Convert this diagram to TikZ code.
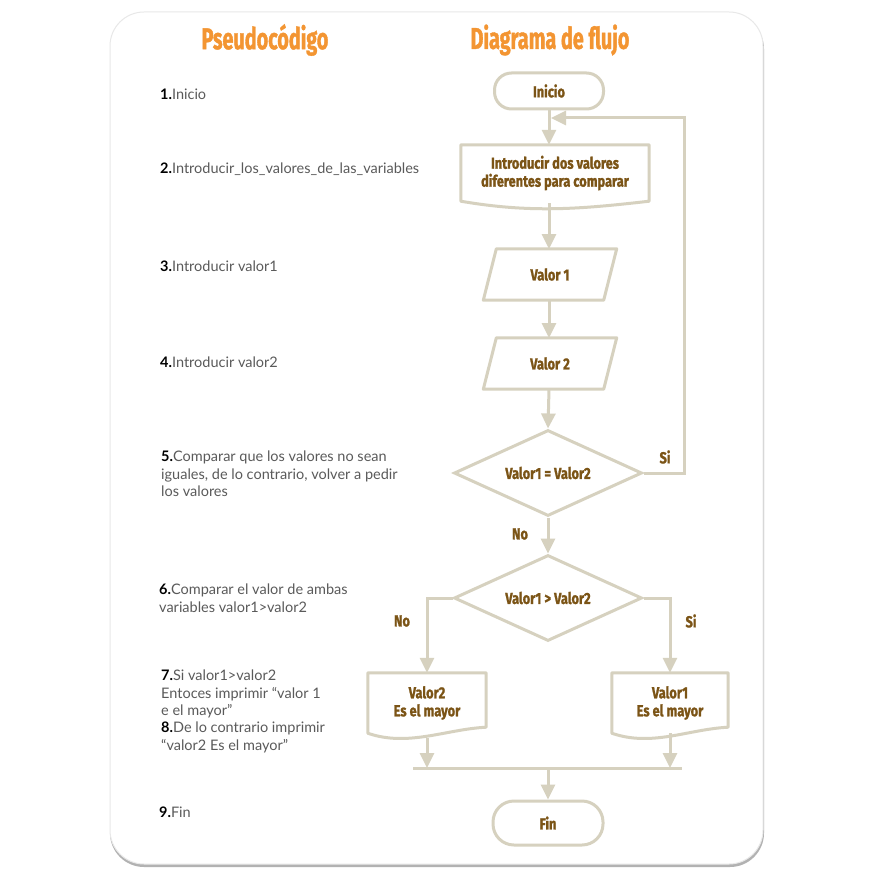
\documentclass[tikz,border=0pt]{standalone}
\usepackage{fontspec}
\setmainfont{Lato}
\newfontfamily\titlefont[FakeStretch=0.66, FakeBold=1.2]{Fira Sans}
\newfontfamily\boxfont[FakeStretch=0.8, FakeBold=1.2]{Fira Sans}
\usetikzlibrary{arrows.meta,shapes.geometric,calc}
\definecolor{linec}{HTML}{D6D1BF}
\definecolor{txtb}{HTML}{7B5416}
\definecolor{orng}{HTML}{F39532}
\definecolor{grayt}{HTML}{5A5A5A}
\tikzset{
  flow/.style={draw=linec, line width=3pt},
  arr/.style={flow, -{Triangle[width=14pt,length=15pt]}},
  lbl/.style={text=txtb, font=\boxfont\bfseries\fontsize{16}{18}\selectfont, align=center},
  term/.style={flow, lbl, rounded corners=17pt, minimum width=109pt, minimum height=36pt, inner sep=0pt},
  ghost/.style={lbl, draw=none, inner sep=0pt},
  dec/.style={flow, lbl, diamond, aspect=2.2, minimum width=188pt, minimum height=86pt, inner sep=0pt},
  pc/.style={text=grayt, font=\fontsize{14.5}{17.3}\selectfont, align=left, inner sep=0pt, anchor=north west},
  ttl/.style={text=orng, font=\titlefont\bfseries\fontsize{30}{32}\selectfont},
  yn/.style={text=txtb, font=\boxfont\bfseries\fontsize{16}{18}\selectfont}
}
\newcommand{\pn}[1]{\textcolor{black}{\bfseries #1}}
\begin{document}
\begin{tikzpicture}[x=1pt,y=-1pt]
\useasboundingbox (0,0) rectangle (870,880);
\fill[white] (0,0) rectangle (870,880);
% card
\fill[black!30, rounded corners=34pt] (110,15) rectangle (764,867);
\fill[white, rounded corners=34pt] (110,12) rectangle (763,864);
\draw[black!9, line width=1pt, rounded corners=34pt] (110,12) rectangle (763,864);
% titles
\node[ttl] (t1) at (265,40) {Pseudocódigo};
\node[ttl] (t2) at (550,40) {Diagrama de flujo};
% pseudocode
\node[pc] (p1) at (160,89) {\pn{1.}Inicio};
\node[pc] (p2) at (160,163) {\pn{2.}Introducir\_los\_valores\_de\_las\_variables};
\node[pc] (p3) at (160,261) {\pn{3.}Introducir valor1};
\node[pc] (p4) at (160,357) {\pn{4.}Introducir valor2};
\node[pc] (p5) at (161,451) {\pn{5.}Comparar que los valores no sean\\iguales, de lo contrario, volver a pedir\\los valores};
\node[pc] (p6) at (159,584) {\pn{6.}Comparar el valor de ambas\\variables valor1>valor2};
\node[pc] (p7) at (161,670) {\pn{7.}Si valor1>valor2\\Entoces imprimir “valor 1\\e el mayor”\\\pn{8.}De lo contrario imprimir\\“valor2 Es el mayor”};
\node[pc] (p9) at (159,807) {\pn{9.}Fin};
% flowchart
\node[term] (ini) at (549,91) {Inicio};
\node[ghost, minimum width=188pt, minimum height=56pt] (doc1) at (555,173) {Introducir dos valores\\diferentes para comparar};
\draw[flow, line join=round] (doc1.south west) -- (doc1.north west) -- (doc1.north east) -- (doc1.south east)
  .. controls ($(doc1.south east)+(-70,8)$) and ($(doc1.south west)+(70,12)$) .. (doc1.south west) -- cycle;
\node[ghost, minimum width=120pt, minimum height=51pt] (v1) at (550,274.5) {Valor 1};
\draw[flow, line join=round] ($(v1.north west)+(6.5,0)$) -- ($(v1.north east)+(6.5,0)$) -- ($(v1.south east)+(-6.5,0)$) -- ($(v1.south west)+(-6.5,0)$) -- cycle;
\node[ghost, minimum width=120pt, minimum height=51pt] (v2) at (550,363.5) {Valor 2};
\draw[flow, line join=round] ($(v2.north west)+(6.5,0)$) -- ($(v2.north east)+(6.5,0)$) -- ($(v2.south east)+(-6.5,0)$) -- ($(v2.south west)+(-6.5,0)$) -- cycle;
\node[dec] (d1) at (548,473) {Valor1 = Valor2};
\node[dec] (d2) at (548,598) {Valor1 > Valor2};
\node[ghost, minimum width=118pt, minimum height=60pt] (doc2) at (427,703) {Valor2\\Es el mayor};
\draw[flow, line join=round] (doc2.south west) -- (doc2.north west) -- (doc2.north east) -- ($(doc2.south east)+(0,-6)$)
  .. controls ($(doc2.south east)+(-40,-4)$) and ($(doc2.south west)+(40,14)$) .. (doc2.south west) -- cycle;
\node[ghost, minimum width=116pt, minimum height=60pt] (doc3) at (670,703) {Valor1\\Es el mayor};
\draw[flow, line join=round] (doc3.south west) -- (doc3.north west) -- (doc3.north east) -- ($(doc3.south east)+(0,-6)$)
  .. controls ($(doc3.south east)+(-40,-4)$) and ($(doc3.south west)+(40,14)$) .. (doc3.south west) -- cycle;
\node[term, minimum width=110pt, minimum height=44pt, rounded corners=21pt] (fin) at (548,823) {Fin};
% connectors
\coordinate (lpc) at (684,118);
\coordinate (lpe) at (551,118);
\coordinate (jl) at (413,768);
\coordinate (jr) at (682,768);
\coordinate (jm) at (548,768);
\draw[arr] (ini.south) -- (ini.south |- doc1.north);
\draw[arr] (d1.east) -| (lpc) -- (lpe);
\draw[arr] (549,203) -- (549,249);
\draw[arr] (549,300) -- (549,338);
\draw[arr] (549,389) -- (d1.north);
\draw[arr] (d1.south) -- (d2.north);
\draw[arr] (d2.west) -| (doc2.north);
\draw[arr] (d2.east) -| (doc3.north);
\draw[arr] (427,738) -- (427 ,768);
\draw[arr] (670,733) -- (670,768);
\draw[flow] (jl) -- (jr);
\draw[arr] (jm) -- (fin.north);
% labels
\node[yn] (si1) at (665,457) {Si};
\node[yn] (no1) at (520,534) {No};
\node[yn] (no2) at (402,621) {No};
\node[yn] (si2) at (691,621) {Si};
\end{tikzpicture}
\end{document}
